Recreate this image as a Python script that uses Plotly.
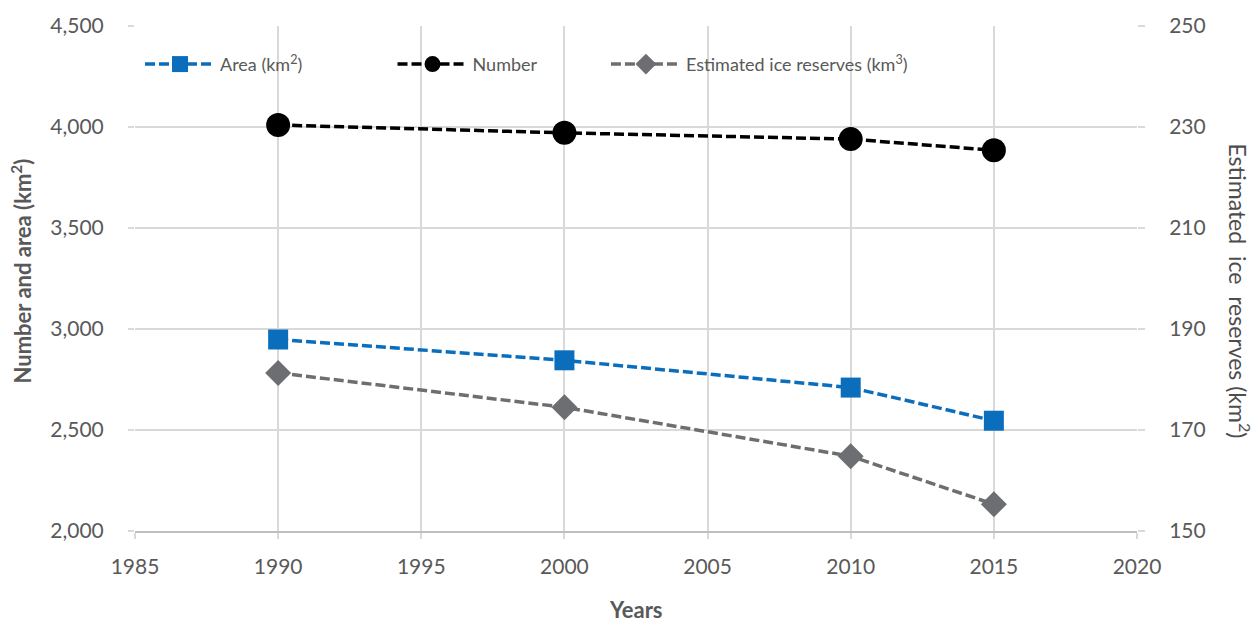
import plotly.graph_objects as go

years = [1990, 2000, 2010, 2015]
area_km2 = [2948, 2845, 2710, 2546]
glacier_number = [4010, 3971, 3940, 3885]
ice_reserves_km3 = [181.3, 174.5, 164.8, 155.3]

FONT = "Lato"
GREY_TEXT = "#595959"
GRID = "#d9d9d9"
DASH = "10px,4px"

fig = go.Figure()

fig.add_trace(go.Scatter(
    x=years, y=area_km2, name="Area (km<sup>2</sup>)",
    mode="lines+markers", legend="legend",
    line=dict(color="#0a6ebd", width=3.5, dash=DASH),
    marker=dict(symbol="square", size=20, color="#0a6ebd"),
))
fig.add_trace(go.Scatter(
    x=years, y=glacier_number, name="Number",
    mode="lines+markers", legend="legend2",
    line=dict(color="#000000", width=3.5, dash=DASH),
    marker=dict(symbol="circle", size=24, color="#000000"),
))
fig.add_trace(go.Scatter(
    x=years, y=ice_reserves_km3, name="Estimated ice reserves (km<sup>3</sup>)",
    mode="lines+markers", yaxis="y2", legend="legend3",
    line=dict(color="#6d6e71", width=3.5, dash=DASH),
    marker=dict(symbol="diamond", size=20, color="#6d6e71"),
))

legend_style = dict(
    yanchor="middle", xanchor="left", y=0.924,
    bgcolor="rgba(0,0,0,0)", font=dict(size=18, color=GREY_TEXT, family=FONT),
    itemwidth=70,
)

fig.update_layout(
    width=1256, height=623,
    margin=dict(l=135, r=119, t=23, b=92),
    paper_bgcolor="white", plot_bgcolor="white",
    font=dict(family=FONT, color=GREY_TEXT, size=21),
    showlegend=True,
    legend=dict(x=0.005, **legend_style),
    legend2=dict(x=0.257, **legend_style),
    legend3=dict(x=0.470, **legend_style),
    xaxis=dict(
        range=[1985, 2020], tick0=1985, dtick=5,
        showgrid=True, gridcolor=GRID, gridwidth=1.5,
        showline=True, linecolor="#bfbfbf", linewidth=1.5,
        ticks="outside", ticklen=6, tickcolor=GRID, tickwidth=1.5,
        ticklabelstandoff=10,
        tickfont=dict(size=21, color=GREY_TEXT),
        zeroline=False,
    ),
    yaxis=dict(
        range=[2000, 4500], tick0=2000, dtick=500, tickformat=",",
        showgrid=True, gridcolor=GRID, gridwidth=1.5,
        showline=False, zeroline=False,
        ticks="outside", ticklen=6, tickcolor=GRID, tickwidth=1.5,
        ticklabelstandoff=20,
        tickfont=dict(size=21, color=GREY_TEXT),
    ),
    yaxis2=dict(
        range=[150, 250], tick0=150, dtick=20,
        overlaying="y", side="right",
        showgrid=False, showline=False, zeroline=False,
        ticks="outside", ticklen=7, tickcolor=GRID, tickwidth=1.5,
        ticklabelstandoff=20,
        tickfont=dict(size=21, color=GREY_TEXT),
    ),
    annotations=[
        dict(
            text="<b>Number and area (km<sup>2</sup>)</b>",
            xref="paper", yref="paper", x=0.0, y=0.5, xanchor="center", yanchor="middle",
            xshift=-114, yshift=7, showarrow=False, textangle=-90,
            font=dict(size=22, color=GREY_TEXT),
        ),
        dict(
            text="Estimated  ice  reserves (km<sup>2</sup>)",
            xref="paper", yref="paper", x=1.0, y=0.5, xanchor="center", yanchor="middle",
            xshift=102, yshift=-12, showarrow=False, textangle=90,
            font=dict(size=23, color="#4d4d4d"),
        ),
        dict(
            text="<b>Years</b>",
            xref="paper", yref="paper", x=0.5, y=0.0, xanchor="center", yanchor="middle",
            yshift=-78, showarrow=False,
            font=dict(size=22, color=GREY_TEXT),
        ),
    ],
)

fig.write_html("out.html")
